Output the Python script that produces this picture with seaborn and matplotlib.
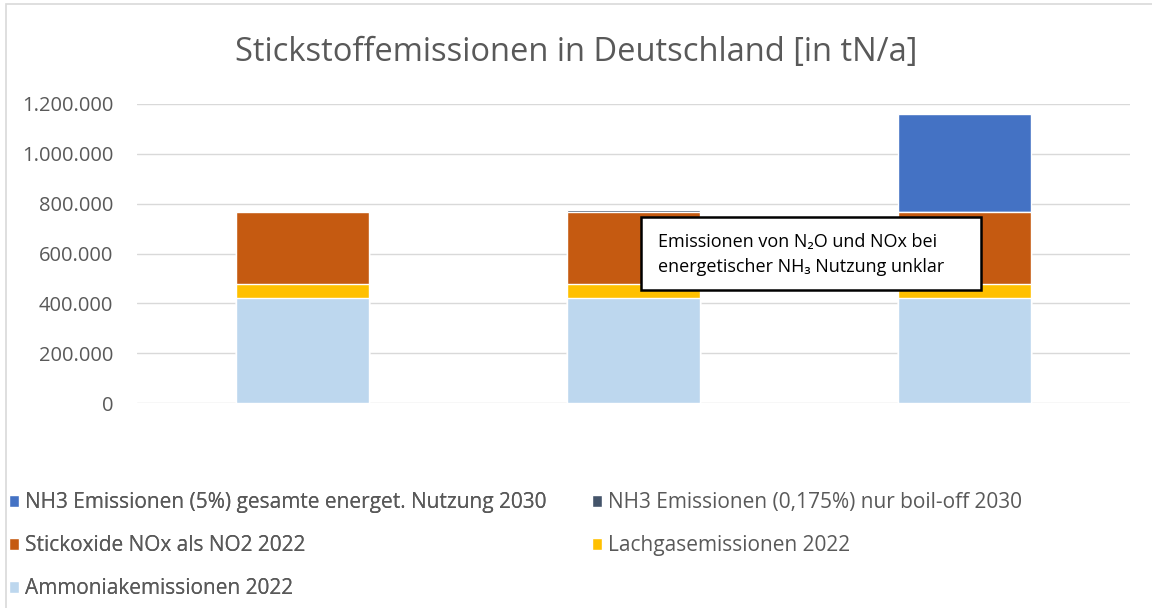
import pandas as pd
import matplotlib.pyplot as plt
import seaborn as sns
from matplotlib.patches import Patch, Rectangle

# values (tN/a)
szenarien = ["2022", "2030 boil-off", "2030 gesamt"]
ammoniak = [420000, 420000, 420000]
lachgas = [57000, 57000, 57000]
stickoxide = [289000, 289000, 289000]
nh3_boiloff = [0, 7000, 0]
nh3_gesamt = [0, 0, 394000]

series = [
    ("Ammoniakemissionen 2022", ammoniak, "#BDD7EE"),
    ("Lachgasemissionen 2022", lachgas, "#FFC000"),
    ("Stickoxide NOx als NO2 2022", stickoxide, "#C55A11"),
    ("NH3 Emissionen (0,175%) nur boil-off 2030", nh3_boiloff, "#44546A"),
    ("NH3 Emissionen (5%) gesamte energet. Nutzung 2030", nh3_gesamt, "#4472C4"),
]


def main():
    sns.set_theme(style="white")
    plt.rcParams["font.family"] = ["Open Sans", "DejaVu Sans"]

    fig = plt.figure(figsize=(11.52, 6.08), dpi=100)
    ax = fig.add_axes([0.119, 0.337, 0.862, 0.492])

    # stacked bars: draw cumulative totals, tallest first
    df = pd.DataFrame({"Szenario": szenarien})
    cum = [0, 0, 0]
    layers = []
    for name, vals, color in series:
        cum = [c + v for c, v in zip(cum, vals)]
        layers.append((name, list(cum), color))
    for name, tot, color in reversed(layers):
        df["val"] = tot
        sns.barplot(data=df, x="Szenario", y="val", color=color, width=0.4,
                    saturation=1, ax=ax, zorder=2)

    ax.set_ylim(0, 1200000)
    ax.set_yticks(range(0, 1200001, 200000))
    ax.set_yticklabels([f"{v:,}".replace(",", ".") for v in range(0, 1200001, 200000)],
                       fontsize=14.5, color="#595959")
    ax.set_xticklabels([])
    ax.set_xlabel("")
    ax.set_ylabel("")
    ax.tick_params(length=0, pad=17)
    ax.grid(axis="y", color="#D9D9D9", linewidth=1, zorder=0)
    ax.set_axisbelow(True)
    sns.despine(ax=ax, left=True, bottom=True)

    fig.text(0.5, 0.914, "Stickstoffemissionen in Deutschland [in tN/a]",
             ha="center", va="center", fontsize=23.5, color="#595959")

    # annotation box
    ax.add_patch(Rectangle((1.021, 453000), 1.03, 292000, facecolor="white",
                           edgecolor="black", linewidth=1.8, zorder=5))
    ax.text(1.074, 598000, "Emissionen von N\u2082O und NOx bei\nenergetischer NH\u2083 Nutzung unklar",
            ha="left", va="center", fontsize=13, color="black", linespacing=1.5, zorder=6)

    # legend in Excel order (row-wise)
    col1 = [4, 2, 0]
    col2 = [3, 1]
    leg_kw = dict(loc="upper left", frameon=False, fontsize=15, handlelength=0.5,
                  handleheight=0.5, handletextpad=0.3, labelspacing=1.05,
                  labelcolor="#595959", borderaxespad=0, borderpad=0.2)
    leg1 = fig.legend(handles=[Patch(facecolor=series[i][2], label=series[i][0]) for i in col1],
                      bbox_to_anchor=(0.004, 0.197), **leg_kw)
    fig.legend(handles=[Patch(facecolor=series[i][2], label=series[i][0]) for i in col2],
               bbox_to_anchor=(0.510, 0.197), **leg_kw)
    fig.add_artist(leg1)

    fig.patches.append(Rectangle((0.005, -0.01), 1.1, 1.004, transform=fig.transFigure,
                                 fill=False, edgecolor="#D9D9D9", linewidth=1.2))

    fig.savefig("out.png", dpi=100)
    plt.close(fig)


if __name__ == "__main__":
    main()
